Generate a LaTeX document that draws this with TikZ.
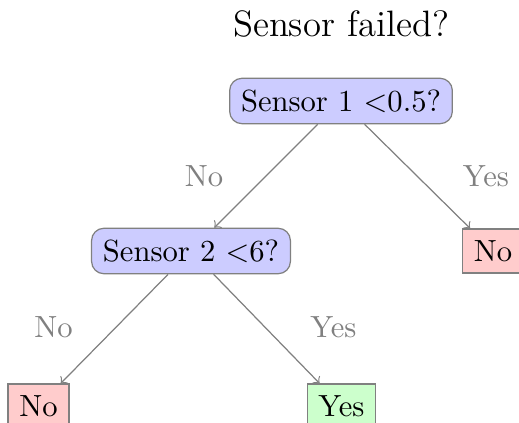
\documentclass[tikz,border=0pt]{standalone}
\usepackage{amsmath}
\usepackage{tikz}

\tikzset{
  question/.style={draw=gray, fill=blue!20, rounded corners=4pt, inner sep=3.7pt},
  leafno/.style={draw=gray, fill=red!20, inner sep=3.7pt},
  leafyes/.style={draw=gray, fill=green!20, inner sep=3.7pt},
  answer/.style={text=gray},
  branch/.style={->, gray}
}

\begin{document}
\begin{tikzpicture}[x=0.3268pt, y=-0.3268pt]
      \useasboundingbox (0,0) rectangle (519,422);
      \begin{scope}
      \clip (0,0) rectangle (519,422);
      \node (title) at (341,24) {\large Sensor failed?};
      \node[question] (q1) at (341,101) {Sensor 1 \(<\)0.5?};
      \node[question] (q2) at (191,251) {Sensor 2 \(<\)6?};
      \node[leafno] (l1) at (493,251) {No};
      \node[leafno] (l2) at (38.5,406) {No};
      \node[leafyes] (l3) at (341.5,406) {Yes};
      \draw[branch] (q1) -- (q2);
      \draw[branch] (q1) -- (l1);
      \draw[branch] (q2) -- (l2);
      \draw[branch] (q2) -- (l3);
      \node[answer] (a1) at (204,176) {No};
      \node[answer] (a2) at (486,176) {Yes};
      \node[answer] (a3) at (53.5,327) {No};
      \node[answer] (a4) at (333.5,327) {Yes};
      \end{scope}
    \end{tikzpicture}
\end{document}
